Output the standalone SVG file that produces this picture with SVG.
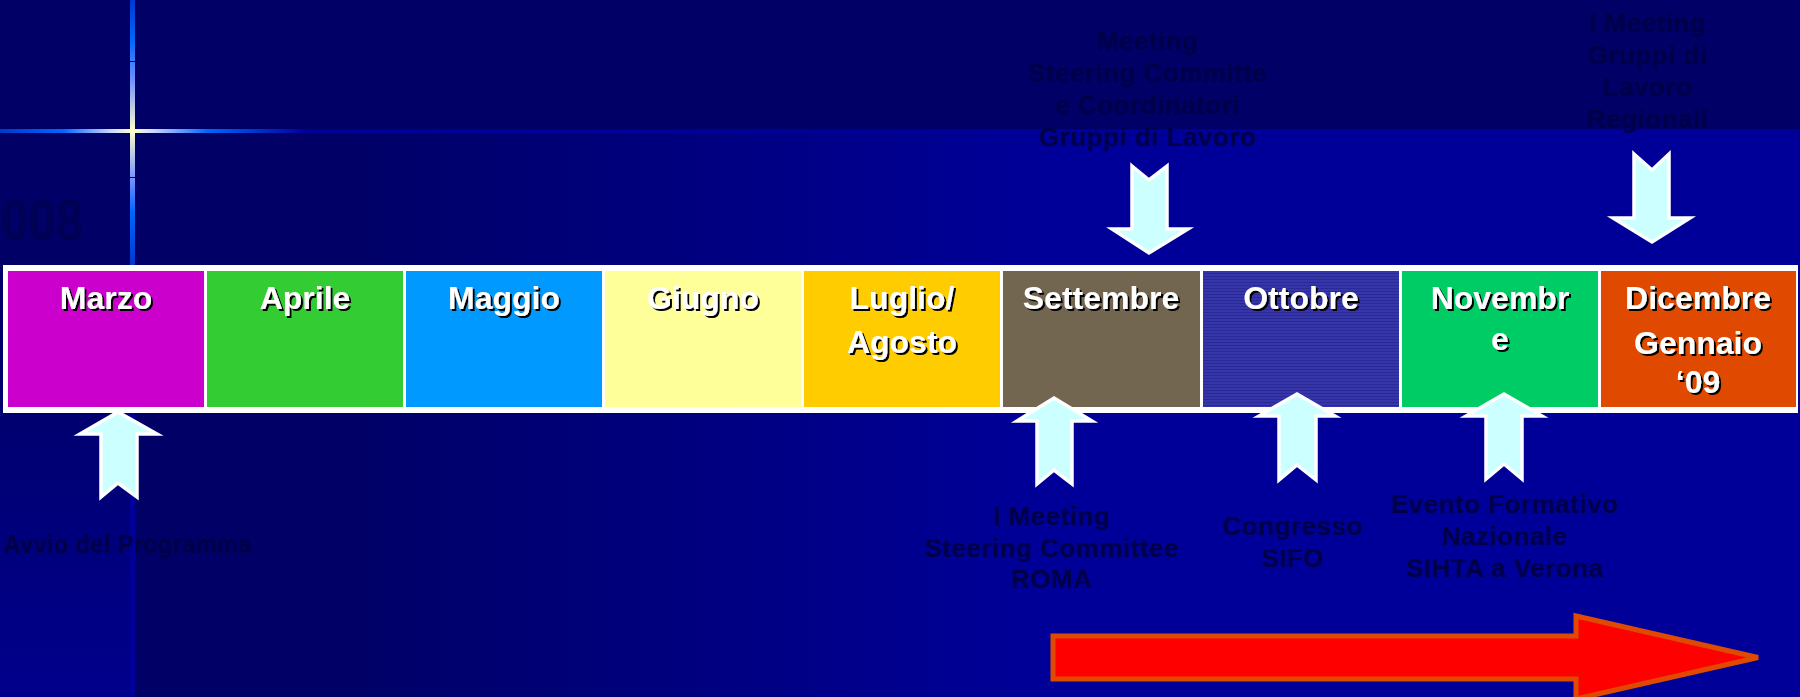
<svg xmlns="http://www.w3.org/2000/svg" width="1800" height="697" viewBox="0 0 1800 697">
<defs>
<linearGradient id="bodyGrad" gradientUnits="userSpaceOnUse" x1="135" y1="0" x2="1800" y2="0">
<stop offset="0" stop-color="#000066"/>
<stop offset="0.12" stop-color="#000066"/>
<stop offset="0.55" stop-color="#000099"/>
<stop offset="1" stop-color="#000099"/>
</linearGradient>
<linearGradient id="leftGrad" gradientUnits="userSpaceOnUse" x1="0" y1="0" x2="0" y2="697">
<stop offset="0" stop-color="#000066"/>
<stop offset="0.45" stop-color="#000066"/>
<stop offset="1" stop-color="#00008c"/>
</linearGradient>
<linearGradient id="hGlow" gradientUnits="userSpaceOnUse" x1="0" y1="0" x2="1800" y2="0">
<stop offset="0" stop-color="#0038cc"/>
<stop offset="0.035" stop-color="#0066ff"/>
<stop offset="0.062" stop-color="#ccd8ff"/>
<stop offset="0.0735" stop-color="#ffffcc"/>
<stop offset="0.085" stop-color="#ccd8ff"/>
<stop offset="0.115" stop-color="#0066ff"/>
<stop offset="0.17" stop-color="#000099"/>
<stop offset="1" stop-color="#000099"/>
</linearGradient>
<linearGradient id="vGlow" gradientUnits="userSpaceOnUse" x1="0" y1="0" x2="0" y2="265">
<stop offset="0" stop-color="#0038cc"/>
<stop offset="0.15" stop-color="#0066ff"/>
<stop offset="0.3" stop-color="#7090ff"/>
<stop offset="0.494" stop-color="#ffffcc"/>
<stop offset="0.68" stop-color="#7090ff"/>
<stop offset="0.8" stop-color="#0066ff"/>
<stop offset="1" stop-color="#0038cc"/>
</linearGradient>
<pattern id="stripes" patternUnits="userSpaceOnUse" width="4" height="3">
<rect width="4" height="3" fill="#3636aa"/>
<rect width="4" height="1" fill="#2a2a96"/>
</pattern>
<filter id="shadow" x="-10%" y="-20%" width="130%" height="150%">
<feDropShadow dx="2" dy="2" stdDeviation="0" flood-color="#000000" flood-opacity="1"/>
</filter>
</defs>
<style>
.month { font-family: "Liberation Sans", Arial, sans-serif; font-weight: bold; font-size: 32px; fill: #ffffff; text-anchor: middle; filter: url(#shadow); }
.event { font-family: "Liberation Sans", Arial, sans-serif; font-weight: bold; font-size: 26px; letter-spacing: 0.5px; fill: #000048; text-anchor: middle; }
.big { font-family: "Liberation Sans", Arial, sans-serif; font-weight: bold; font-size: 58px; fill: #000055; }
.marker { fill: #ccffff; stroke: #ffffff; stroke-width: 3.5; stroke-linejoin: miter; }
.cell { stroke: none; }
</style>

<g id="background">
<rect x="0" y="0" width="1800" height="697" fill="#000066"/>
<rect x="135" y="132" width="1665" height="565" fill="url(#bodyGrad)"/>
<rect x="0" y="132" width="130" height="565" fill="url(#leftGrad)"/>
<rect x="130" y="413" width="5" height="284" fill="#000099"/>
<rect x="0" y="129" width="1800" height="4" fill="url(#hGlow)"/>
<rect x="130" y="0" width="5" height="265" fill="url(#vGlow)"/>
<rect x="130" y="61" width="5" height="1" fill="#000066"/>
<rect x="130" y="177" width="5" height="1" fill="#000066"/>
<text class="big" x="1" y="240" textLength="82" lengthAdjust="spacingAndGlyphs">008</text>
</g>

<g id="timeline-bar">
<rect x="3" y="265" width="1795" height="148" fill="#ffffff"/>
</g>

<g id="marzo">
<rect class="cell" x="8" y="271" width="196" height="136" fill="#cc00cc"/>
<text class="month" x="106" y="309">Marzo</text>
</g>
<g id="aprile">
<rect class="cell" x="207" y="271" width="196" height="136" fill="#33cc33"/>
<text class="month" x="305" y="309">Aprile</text>
</g>
<g id="maggio">
<rect class="cell" x="406" y="271" width="196" height="136" fill="#0099ff"/>
<text class="month" x="504" y="309">Maggio</text>
</g>
<g id="giugno">
<rect class="cell" x="605" y="271" width="196" height="136" fill="#ffff99"/>
<text class="month" x="703" y="309">Giugno</text>
</g>
<g id="luglio-agosto">
<rect class="cell" x="804" y="271" width="196" height="136" fill="#ffcc00"/>
<text class="month" x="902" y="309">Luglio/</text>
<text class="month" x="902" y="353">Agosto</text>
</g>
<g id="settembre">
<rect class="cell" x="1003" y="271" width="197" height="136" fill="#736650"/>
<text class="month" x="1101" y="309">Settembre</text>
</g>
<g id="ottobre">
<rect class="cell" x="1203" y="271" width="196" height="136" fill="url(#stripes)"/>
<text class="month" x="1301" y="309">Ottobre</text>
</g>
<g id="novembre">
<rect class="cell" x="1402" y="271" width="196" height="136" fill="#00cc66"/>
<text class="month" x="1500" y="309">Novembr</text>
<text class="month" x="1500" y="350">e</text>
</g>
<g id="dicembre-gennaio">
<rect class="cell" x="1601" y="271" width="195" height="136" fill="#df4a00"/>
<text class="month" x="1698" y="309">Dicembre</text>
<text class="month" x="1698" y="354">Gennaio</text>
<text class="month" x="1698" y="393">‘09</text>
</g>

<g id="event-avvio">
<text class="event" x="128" y="553" textLength="248" lengthAdjust="spacingAndGlyphs">Avvio del Programma</text>
</g>
<g id="event-meeting-steering-roma">
<text class="event" x="1052" y="525">I Meeting</text>
<text class="event" x="1052" y="557">Steering Committee</text>
<text class="event" x="1052" y="588">ROMA</text>
</g>
<g id="event-congresso">
<text class="event" x="1293" y="535">Congresso</text>
<text class="event" x="1293" y="567">SIFO</text>
</g>
<g id="event-evento-formativo">
<text class="event" x="1505" y="513">Evento Formativo</text>
<text class="event" x="1505" y="545">Nazionale</text>
<text class="event" x="1505" y="577">SIHTA a Verona</text>
</g>
<g id="event-meeting-coordinatori">
<text class="event" x="1148" y="50">Meeting</text>
<text class="event" x="1148" y="82">Steering Committe</text>
<text class="event" x="1148" y="114">e Coordinatori</text>
<text class="event" x="1148" y="146">Gruppi di Lavoro</text>
</g>
<g id="event-meeting-regionali">
<text class="event" x="1648" y="32">I Meeting</text>
<text class="event" x="1648" y="64">Gruppi di</text>
<text class="event" x="1648" y="96">Lavoro</text>
<text class="event" x="1648" y="128">Regionali</text>
</g>

<g id="connectors">
<polygon class="marker" points="118,412 157,434 137,434 137,497 118,483 101,497 101,434 80,434"/>
<polygon class="marker" points="1054,398 1092,421 1072,421 1072,484 1054,470 1037,484 1037,421 1017,421"/>
<polygon class="marker" points="1297,394 1335,416 1316,416 1316,480 1297,465 1279,480 1279,416 1259,416"/>
<polygon class="marker" points="1504,394 1542,416 1522,416 1522,479 1504,464 1486,479 1486,416 1466,416"/>
<polygon class="marker" points="1132,166 1149,180 1167,166 1167,229 1188,229 1149,253 1112,229 1132,229"/>
<polygon class="marker" points="1634,154 1652,170 1669,154 1669,218 1690,218 1652,242 1613,218 1634,218"/>
<polygon points="1053,636 1576,636 1576,616 1758,657.5 1576,699 1576,679 1053,679" fill="#ff0000" stroke="#e04a00" stroke-width="5"/>
</g>
</svg>
